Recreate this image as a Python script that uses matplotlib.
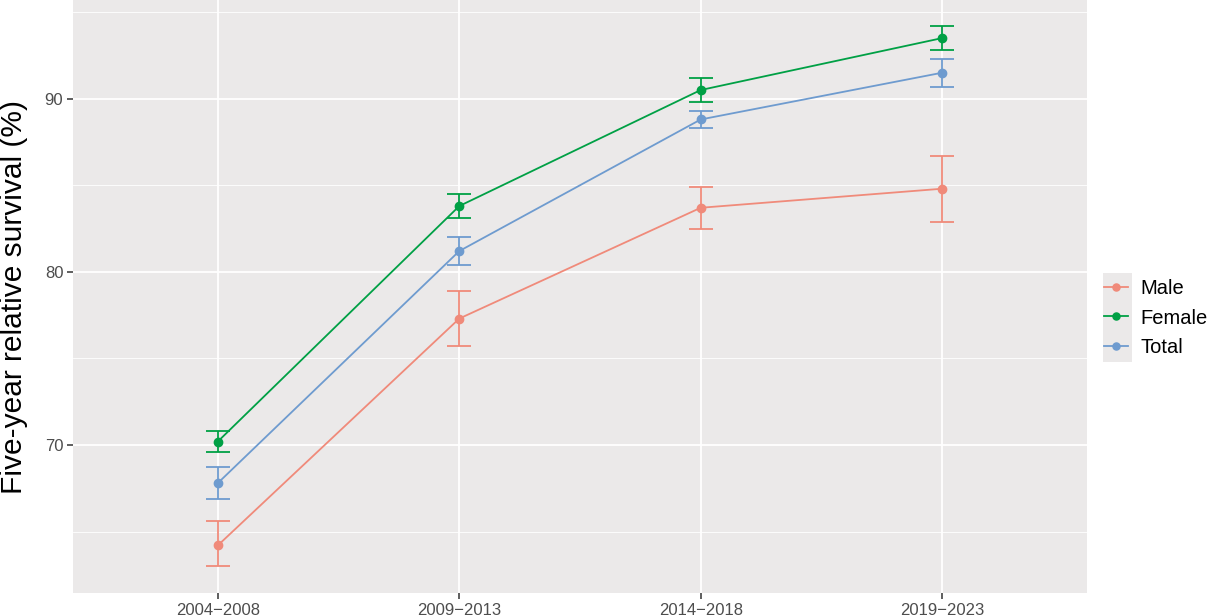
import matplotlib.pyplot as plt
from matplotlib.patches import Rectangle

plt.rcParams["font.family"] = ["Liberation Sans", "DejaVu Sans"]

periods = ["2004\u22122008", "2009\u22122013", "2014\u22122018", "2019\u22122023"]

male = [64.2, 77.3, 83.7, 84.8]
male_lo = [63.0, 75.7, 82.5, 82.9]
male_hi = [65.6, 78.9, 84.9, 86.7]

female = [70.2, 83.8, 90.5, 93.5]
female_lo = [69.6, 83.1, 89.8, 92.8]
female_hi = [70.8, 84.5, 91.2, 94.2]

total = [67.8, 81.2, 88.8, 91.5]
total_lo = [66.9, 80.4, 88.3, 90.7]
total_hi = [68.7, 82.0, 89.3, 92.3]

series = [
    ("Male", male, male_lo, male_hi, "#F08A7A"),
    ("Female", female, female_lo, female_hi, "#00A045"),
    ("Total", total, total_lo, total_hi, "#6E9BCF"),
]

fig = plt.figure(figsize=(12.08, 6.16), dpi=100)
ax = fig.add_axes([73 / 1208, 1 - 593 / 616, (1087 - 73) / 1208, 593 / 616])
ax.set_facecolor("#EBE9E9")

x = list(range(len(periods)))
handles = []
for name, vals, lo, hi, color in series:
    yerr = [[v - l for v, l in zip(vals, lo)], [h - v for v, h in zip(vals, hi)]]
    ax.errorbar(x, vals, yerr=yerr, fmt="none", ecolor=color, elinewidth=1.3,
                capsize=8.7, capthick=1.3, zorder=3)
    (ln,) = ax.plot(x, vals, color=color, lw=1.3, marker="o", markersize=6,
                    zorder=4, label=name)
    handles.append(ln)

ax.set_xlim(-0.6, 3.6)
ax.set_ylim(61.45, 95.7)
ax.set_xticks(x)
ax.set_xticklabels(periods)
ax.set_yticks([70, 80, 90])
ax.set_yticks([65, 75, 85, 95], minor=True)

ax.grid(True, which="major", color="white", lw=1.3)
ax.grid(True, which="minor", axis="y", color="white", lw=0.6)
ax.set_axisbelow(True)
for s in ax.spines.values():
    s.set_visible(False)

ax.tick_params(axis="both", which="major", length=4, width=1.1, color="#333333",
               labelsize=12, labelcolor="#4D4D4D", pad=3)
ax.tick_params(axis="y", which="minor", length=0)

ax.set_ylabel("Five-year relative survival (%)", fontsize=21.5, color="black")
ax.yaxis.set_label_coords(-0.044, 0.5)

# legend key background
fig.patches.append(Rectangle((1103 / 1208, 1 - 362 / 616), 29 / 1208, 89 / 616,
                             transform=fig.transFigure, facecolor="#EBE9E9",
                             edgecolor="none", zorder=0))
fig.legend(handles=handles, loc="center left", bbox_to_anchor=(1104 / 1208, 1 - 318 / 616),
           frameon=False, fontsize=14.5, handlelength=1.2, handletextpad=0.6,
           labelspacing=0.52, borderaxespad=0, borderpad=0, markerscale=0.85)

fig.savefig("out.png", dpi=100)
